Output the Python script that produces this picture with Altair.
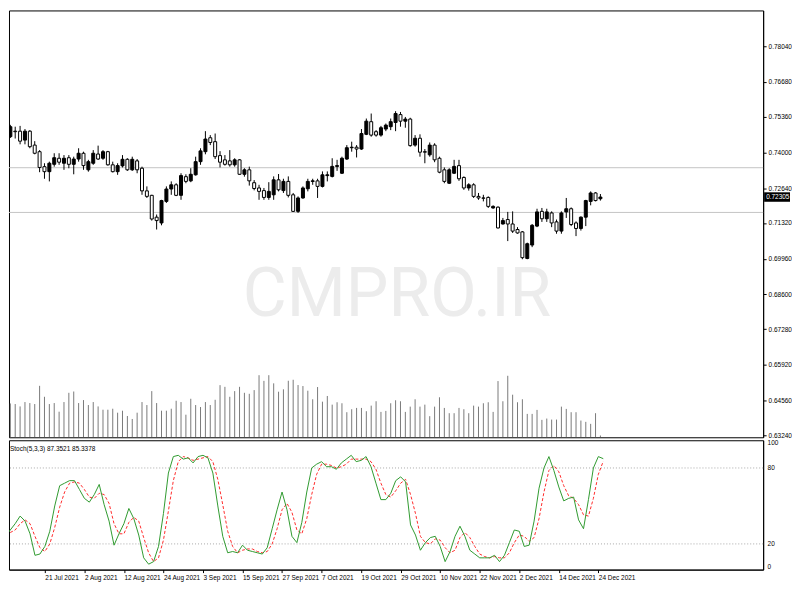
import altair as alt
import pandas as pd

# ---------------- data (AUDUSD-like daily, MT4 style) ----------------
open_ = [0.7460, 0.7481, 0.7481, 0.7447, 0.7481, 0.7428, 0.7403, 0.7346, 0.7327, 0.7355,
         0.7378, 0.7359, 0.7380, 0.7355, 0.7375, 0.7397, 0.7334, 0.7359, 0.7394, 0.7378,
         0.7403, 0.7353, 0.7327, 0.7349, 0.7374, 0.7334, 0.7368, 0.7340, 0.7254, 0.7237,
         0.7154, 0.7132, 0.7214, 0.7261, 0.7277, 0.7237, 0.7308, 0.7292, 0.7315, 0.7365,
         0.7403, 0.7456, 0.7441, 0.7388, 0.7372, 0.7368, 0.7353, 0.7372, 0.7317, 0.7334,
         0.7285, 0.7265, 0.7255, 0.7229, 0.7239, 0.7296, 0.7255, 0.7290, 0.7239, 0.7176,
         0.7227, 0.7262, 0.7290, 0.7292, 0.7271, 0.7312, 0.7309, 0.7347, 0.7321, 0.7375,
         0.7418, 0.7420, 0.7413, 0.7469, 0.7517, 0.7479, 0.7466, 0.7489, 0.7498, 0.7514,
         0.7544, 0.7519, 0.7527, 0.7428, 0.7454, 0.7403, 0.7391, 0.7428, 0.7378, 0.7334,
         0.7283, 0.7321, 0.7350, 0.7305, 0.7265, 0.7277, 0.7233, 0.7227, 0.7229, 0.7189,
         0.7192, 0.7128, 0.7145, 0.7128, 0.7107, 0.7098, 0.6997, 0.7048, 0.7120, 0.7176,
         0.7148, 0.7170, 0.7136, 0.7101, 0.7174, 0.7186, 0.7132, 0.7111, 0.7154, 0.7214,
         0.7246, 0.7224]
high = [0.7505, 0.7498, 0.7501, 0.7489, 0.7485, 0.7443, 0.7409, 0.7359, 0.7365, 0.7397,
        0.7397, 0.7390, 0.7390, 0.7384, 0.7416, 0.7403, 0.7372, 0.7409, 0.7426, 0.7409,
        0.7406, 0.7365, 0.7359, 0.7390, 0.7378, 0.7384, 0.7375, 0.7346, 0.7271, 0.7239,
        0.7164, 0.7220, 0.7271, 0.7290, 0.7283, 0.7321, 0.7317, 0.7340, 0.7384, 0.7416,
        0.7481, 0.7466, 0.7472, 0.7405, 0.7390, 0.7409, 0.7378, 0.7375, 0.7340, 0.7346,
        0.7295, 0.7277, 0.7265, 0.7287, 0.7309, 0.7318, 0.7300, 0.7309, 0.7246, 0.7233,
        0.7271, 0.7300, 0.7300, 0.7300, 0.7328, 0.7328, 0.7378, 0.7372, 0.7384, 0.7428,
        0.7441, 0.7428, 0.7489, 0.7529, 0.7548, 0.7485, 0.7501, 0.7510, 0.7529, 0.7557,
        0.7554, 0.7535, 0.7532, 0.7466, 0.7469, 0.7413, 0.7438, 0.7435, 0.7384, 0.7343,
        0.7340, 0.7372, 0.7372, 0.7309, 0.7283, 0.7283, 0.7246, 0.7239, 0.7233, 0.7199,
        0.7195, 0.7151, 0.7174, 0.7176, 0.7116, 0.7101, 0.7057, 0.7128, 0.7186, 0.7189,
        0.7186, 0.7176, 0.7145, 0.7176, 0.7227, 0.7191, 0.7138, 0.7157, 0.7220, 0.7252,
        0.7249, 0.7242]
low = [0.7455, 0.7453, 0.7431, 0.7431, 0.7416, 0.7393, 0.7325, 0.7300, 0.7290, 0.7346,
       0.7353, 0.7334, 0.7340, 0.7317, 0.7365, 0.7334, 0.7327, 0.7353, 0.7372, 0.7372,
       0.7350, 0.7324, 0.7315, 0.7343, 0.7330, 0.7330, 0.7321, 0.7239, 0.7227, 0.7141,
       0.7107, 0.7123, 0.7208, 0.7239, 0.7234, 0.7220, 0.7283, 0.7287, 0.7312, 0.7353,
       0.7393, 0.7428, 0.7375, 0.7343, 0.7350, 0.7346, 0.7346, 0.7315, 0.7308, 0.7274,
       0.7256, 0.7220, 0.7220, 0.7220, 0.7220, 0.7252, 0.7246, 0.7229, 0.7174, 0.7170,
       0.7224, 0.7252, 0.7277, 0.7227, 0.7267, 0.7290, 0.7305, 0.7330, 0.7318, 0.7372,
       0.7403, 0.7381, 0.7410, 0.7466, 0.7460, 0.7460, 0.7460, 0.7481, 0.7485, 0.7481,
       0.7498, 0.7494, 0.7422, 0.7422, 0.7384, 0.7359, 0.7384, 0.7363, 0.7321, 0.7283,
       0.7280, 0.7318, 0.7292, 0.7258, 0.7255, 0.7227, 0.7220, 0.7214, 0.7189, 0.7186,
       0.7111, 0.7126, 0.7063, 0.7094, 0.7091, 0.6994, 0.6994, 0.7040, 0.7116, 0.7136,
       0.7136, 0.7116, 0.7091, 0.7091, 0.7151, 0.7120, 0.7082, 0.7103, 0.7120, 0.7199,
       0.7214, 0.7217]
close = [0.7498, 0.7479, 0.7443, 0.7481, 0.7422, 0.7397, 0.7343, 0.7327, 0.7359, 0.7380,
         0.7363, 0.7378, 0.7355, 0.7375, 0.7397, 0.7350, 0.7365, 0.7397, 0.7375, 0.7403,
         0.7353, 0.7327, 0.7350, 0.7374, 0.7334, 0.7374, 0.7334, 0.7254, 0.7233, 0.7147,
         0.7141, 0.7217, 0.7261, 0.7277, 0.7237, 0.7312, 0.7290, 0.7317, 0.7365, 0.7406,
         0.7451, 0.7438, 0.7384, 0.7363, 0.7355, 0.7353, 0.7372, 0.7317, 0.7334, 0.7292,
         0.7263, 0.7252, 0.7229, 0.7252, 0.7296, 0.7258, 0.7290, 0.7237, 0.7176, 0.7227,
         0.7265, 0.7290, 0.7292, 0.7271, 0.7315, 0.7315, 0.7347, 0.7350, 0.7378, 0.7418,
         0.7420, 0.7413, 0.7472, 0.7519, 0.7466, 0.7466, 0.7494, 0.7504, 0.7517, 0.7548,
         0.7519, 0.7527, 0.7426, 0.7454, 0.7401, 0.7401, 0.7428, 0.7372, 0.7325, 0.7290,
         0.7334, 0.7347, 0.7300, 0.7265, 0.7277, 0.7233, 0.7227, 0.7226, 0.7195, 0.7195,
         0.7113, 0.7141, 0.7128, 0.7101, 0.7094, 0.7000, 0.7053, 0.7123, 0.7174, 0.7148,
         0.7174, 0.7132, 0.7101, 0.7170, 0.7186, 0.7126, 0.7111, 0.7154, 0.7217, 0.7246,
         0.7217, 0.72305]
volume = [3400, 3340, 3100, 3540, 3440, 3340, 5170, 4070, 3340, 3440,
          2570, 3540, 4470, 4600, 3440, 3740, 3240, 3540, 3100, 2770,
          2770, 2870, 2470, 2670, 2140, 1840, 2470, 3540, 3240, 4640,
          3440, 2670, 2670, 2870, 3670, 3540, 2270, 3870, 3240, 3040,
          3540, 3240, 3770, 5240, 5070, 4070, 4640, 5070, 4470, 4370,
          4740, 6240, 5670, 6240, 5420, 4580, 4820, 5680, 5780, 5250,
          5150, 4680, 3820, 5050, 3580, 4150, 3280, 3520, 3420, 2520,
          2820, 2950, 2950, 2620, 3180, 3620, 2550, 2650, 3420, 3720,
          3620, 2550, 3080, 3820, 3080, 3280, 2120, 3080, 4020, 2950,
          2420, 2420, 2950, 2820, 2420, 3180, 3080, 3420, 3520, 2550,
          5650, 3620, 6180, 4280, 3520, 3820, 2350, 2350, 2750, 1750,
          1880, 1780, 1780, 3080, 2850, 2520, 2520, 1680, 1550, 1350,
          2420, 180]
stoch_k = [26, 31, 36, 42, 38, 28, 11, 12, 18, 30,
           50, 66, 68, 70, 70, 63, 56, 53, 59, 67,
           51, 38, 19, 28, 36, 48, 40, 27, 9, 4,
           6, 18, 44, 76, 89, 90, 87, 88, 84, 89,
           90, 88, 76, 50, 26, 13, 14, 13, 19, 15,
           14, 13, 12, 17, 32, 47, 61, 47, 26, 21,
           37, 61, 80, 83, 85, 81, 81, 79, 84, 87,
           90, 85, 86, 89, 81, 68, 55, 55, 60, 70,
           73, 69, 35, 27, 15, 21, 25, 26, 18, 6,
           14, 26, 34, 26, 15, 12, 9, 9, 9, 11,
           6, 11, 21, 31, 30, 18, 19, 38, 64, 80,
           89, 78, 65, 54, 56, 57, 39, 32, 55, 80,
           89, 87.3521]
stoch_d = [28, 29, 31, 36, 39, 36, 26, 17, 14, 20,
           33, 49, 61, 68, 69, 68, 63, 57, 56, 60,
           59, 52, 36, 28, 28, 37, 41, 38, 25, 13,
           6, 9, 23, 46, 70, 85, 89, 88, 86, 87,
           88, 89, 85, 71, 51, 30, 18, 13, 15, 16,
           16, 14, 13, 14, 20, 32, 47, 52, 45, 31,
           28, 40, 59, 75, 83, 83, 82, 80, 81, 83,
           87, 87, 87, 87, 85, 79, 68, 59, 57, 62,
           68, 71, 59, 44, 26, 21, 20, 24, 23, 17,
           13, 15, 25, 29, 25, 18, 12, 10, 9, 10,
           9, 9, 13, 21, 27, 26, 22, 25, 40, 61,
           78, 82, 77, 66, 58, 56, 51, 43, 42, 56,
           75, 85.3378]

price_ticks = [0.7804, 0.7668, 0.7536, 0.7400, 0.7264, 0.7132,
               0.6996, 0.6860, 0.6728, 0.6592, 0.6456, 0.6324]
hlines = [0.7342, 0.7172]
stoch_levels = [20, 80]
stoch_ticks = [0, 20, 80, 100]
date_labels = ["9 Jul 2021", "21 Jul 2021", "2 Aug 2021", "12 Aug 2021", "24 Aug 2021",
               "3 Sep 2021", "15 Sep 2021", "27 Sep 2021", "7 Oct 2021", "19 Oct 2021",
               "29 Oct 2021", "10 Nov 2021", "22 Nov 2021", "2 Dec 2021", "14 Dec 2021",
               "24 Dec 2021"]
date_tick_pos = [8 * k for k in range(1, len(date_labels))]
current_price = 0.72305
stoch_title = "Stoch(5,3,3) 87.3521 85.3378"
watermark_text = "CMPRO.IR"

n = len(close)
df = pd.DataFrame({
    "i": list(range(n)), "open": open_, "high": high, "low": low, "close": close,
    "vol": volume, "k": stoch_k, "d": stoch_d,
})
df["dir"] = ["up" if c >= o else "down" for o, c in zip(open_, close)]

FONT = "Liberation Sans"
W = 758

xscale = alt.Scale(domain=[0.745, 153.35], nice=False, zero=False)
pscale = alt.Scale(domain=[0.6317, 0.7940], nice=False, zero=False)
vscale = alt.Scale(domain=[0, 42900], nice=False, zero=True)
sscale = alt.Scale(domain=[-0.3, 101.9], nice=False, zero=False)
X = alt.X("i:Q", scale=xscale, axis=None)

# ---------------- price panel ----------------
wm = alt.Chart(pd.DataFrame({"t": [watermark_text]})).mark_text(
    fontSize=68, font="Roboto", color="#ececec",
    align="center", baseline="middle"
).encode(x=alt.value(390), y=alt.value(287), text="t:N")

hl = alt.Chart(pd.DataFrame({"lv": hlines})).mark_rule(color="#c4c4c4", strokeWidth=1).encode(
    y=alt.Y("lv:Q", scale=pscale, axis=None))

vol = alt.Chart(df).mark_rule(color="#7a7a7a", strokeWidth=1, clip=True).encode(
    x=X, y=alt.Y("vol:Q", scale=vscale, axis=None), y2=alt.datum(0))

price_axis = alt.Axis(orient="right", values=price_ticks, format=".5f", title=None,
                      grid=False, tickSize=3, labelPadding=2, labelFontSize=6.5)

wick = alt.Chart(df).mark_rule(color="black", strokeWidth=1, clip=True).encode(
    x=X, y=alt.Y("low:Q", scale=pscale, axis=price_axis), y2="high:Q")

body = alt.Chart(df).mark_bar(size=3, stroke="black", strokeWidth=1, clip=True,
                              orient="vertical").encode(
    x=X, y=alt.Y("open:Q", scale=pscale, axis=None), y2="close:Q",
    color=alt.Color("dir:N", scale=alt.Scale(domain=["up", "down"], range=["black", "white"]),
                    legend=None))

cur_df = pd.DataFrame({"p": [current_price], "top": [current_price + 0.0018],
                       "bot": [current_price - 0.0018], "lbl": [f"{current_price:.5f}"]})
cur_box = alt.Chart(cur_df).mark_rect(color="black", clip=False).encode(
    x=alt.value(W + 1), x2=alt.value(W + 27),
    y=alt.Y("top:Q", scale=pscale, axis=None), y2="bot:Q")
cur_txt = alt.Chart(cur_df).mark_text(color="white", fontSize=6.5, font=FONT, align="left",
                                      baseline="middle", clip=False).encode(
    x=alt.value(W + 3), y=alt.Y("p:Q", scale=pscale, axis=None), text="lbl:N")

price = alt.layer(wm, hl, vol, wick, body, cur_box, cur_txt).resolve_scale(
    y="independent").properties(width=W, height=429)

# ---------------- stochastic panel ----------------
label_expr = "[" + ",".join(f"'{s}'" for s in date_labels) + "][round(datum.value/8)]"
x_axis = alt.Axis(values=date_tick_pos, labelExpr=label_expr, labelAlign="left", title=None,
                  grid=False, tickSize=3, labelPadding=2, labelFontSize=6.5, labelFlush=False,
                  labelOverlap=False)
stoch_axis = alt.Axis(orient="right", values=stoch_ticks, title=None, grid=False, ticks=False,
                      labelPadding=4, labelFontSize=6.5, labelFlush=True)
SX = alt.X("i:Q", scale=xscale, axis=x_axis)

lv = alt.Chart(pd.DataFrame({"lv": stoch_levels})).mark_rule(
    color="#a8a8a8", strokeDash=[1, 2], strokeWidth=1).encode(
    y=alt.Y("lv:Q", scale=sscale, axis=stoch_axis))
dline = alt.Chart(df).mark_line(color="#ff2b2b", strokeDash=[3, 2], strokeWidth=1,
                                clip=True).encode(
    x=SX, y=alt.Y("d:Q", scale=sscale, axis=stoch_axis))
kline = alt.Chart(df).mark_line(color="#2f9a2f", strokeWidth=1, clip=True).encode(
    x=SX, y=alt.Y("k:Q", scale=sscale, axis=stoch_axis))
st_lbl = alt.Chart(pd.DataFrame({"t": [stoch_title]})).mark_text(
    fontSize=6.5, font=FONT, align="left", baseline="middle", color="black").encode(
    x=alt.value(1), y=alt.value(9), text="t:N")

stoch = alt.layer(lv, dline, kline, st_lbl).properties(width=W, height=130)

chart = alt.vconcat(price, stoch, spacing=3, bounds="flush").properties(
    padding=0, background="white"
).configure_view(stroke="black", strokeWidth=1).configure_axis(
    domainColor="black", tickColor="black", labelColor="black", labelFont=FONT
).configure_text(font=FONT)

chart.save("out.html", embed_options={"renderer": "svg", "actions": False})
